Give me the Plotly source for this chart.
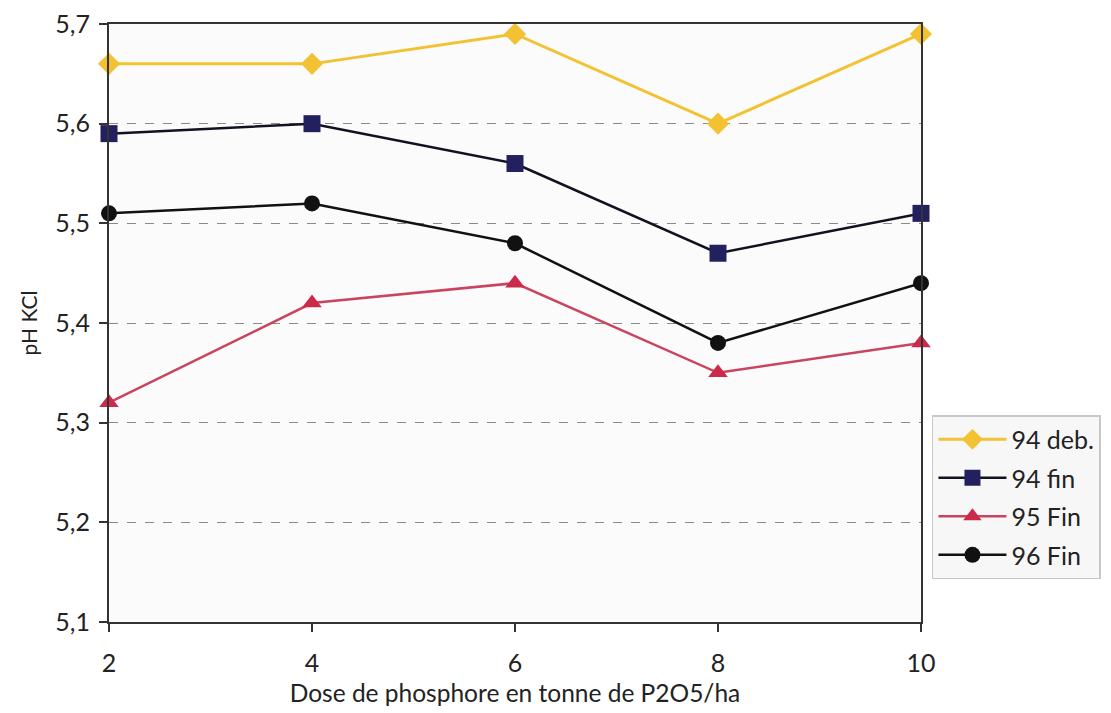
import plotly.graph_objects as go

doses = [2, 4, 6, 8, 10]
s94_deb = [5.66, 5.66, 5.69, 5.60, 5.69]
s94_fin = [5.59, 5.60, 5.56, 5.47, 5.51]
s95_fin = [5.32, 5.42, 5.44, 5.35, 5.38]
s96_fin = [5.51, 5.52, 5.48, 5.38, 5.44]
names = ["94 deb.", "94 fin", "95 Fin", "96 Fin"]
y_ticks = [5.1, 5.2, 5.3, 5.4, 5.5, 5.6, 5.7]

series = [
    (names[0], s94_deb, "#F2C232", "#F2C232", "diamond", 17, 3),
    (names[1], s94_fin, "#111122", "#232060", "square", 17, 2.5),
    (names[2], s95_fin, "#C8445F", "#CC2A4A", "triangle-up", 17, 2.5),
    (names[3], s96_fin, "#111111", "#111111", "circle", 16, 2.5),
]

fig = go.Figure()
for i, (name, ys, lc, mc, sym, ms, lw) in enumerate(series):
    fig.add_trace(go.Scatter(
        x=doses, y=ys, name=name, mode="lines+markers",
        legendgroup=f"g{i}",
        line=dict(color=lc, width=lw),
        marker=dict(symbol=sym, size=ms, color=mc, line=dict(width=0)),
        cliponaxis=False,
    ))

fig.update_layout(
    width=1111, height=713,
    margin=dict(l=109, r=190, t=24, b=91, autoexpand=False),
    paper_bgcolor="white",
    plot_bgcolor="#fbfbfb",
    separators=", ",
    font=dict(family="Lato, Open Sans, sans-serif", color="#222222", size=20),
    showlegend=True,
    legend=dict(
        x=1.0135, xanchor="left", y=0.346, yanchor="top",
        bgcolor="#f7f7f7", bordercolor="#c8c8c8", borderwidth=1.5,
        font=dict(size=25, color="#222222"),
        traceorder="grouped", tracegroupgap=3, itemwidth=68,
    ),
    xaxis=dict(
        range=[2, 10], tickvals=doses, ticktext=[str(d) for d in doses],
        showgrid=False, zeroline=False, automargin=False,
        showline=True, linecolor="#333333", linewidth=2, mirror=True,
        ticks="outside", ticklen=8, tickcolor="#333333", tickwidth=1.5,
        tickfont=dict(size=25), ticklabelstandoff=10,
        title=dict(text="Dose de phosphore en tonne de P2O5/ha", font=dict(size=24.5), standoff=9),
    ),
    yaxis=dict(
        range=[5.1, 5.7], tickvals=y_ticks, tickformat=".1f",
        showgrid=True, gridcolor="#8a8a8a", griddash="dash", gridwidth=1,
        zeroline=False, automargin=False,
        showline=True, linecolor="#333333", linewidth=2, mirror=True,
        ticks="outside", ticklen=8, tickcolor="#333333", tickwidth=1.5,
        tickfont=dict(size=25), ticklabelstandoff=4,
        title=dict(text="pH KCl", font=dict(size=21), standoff=12),
    ),
)

fig.write_html("out.html")
